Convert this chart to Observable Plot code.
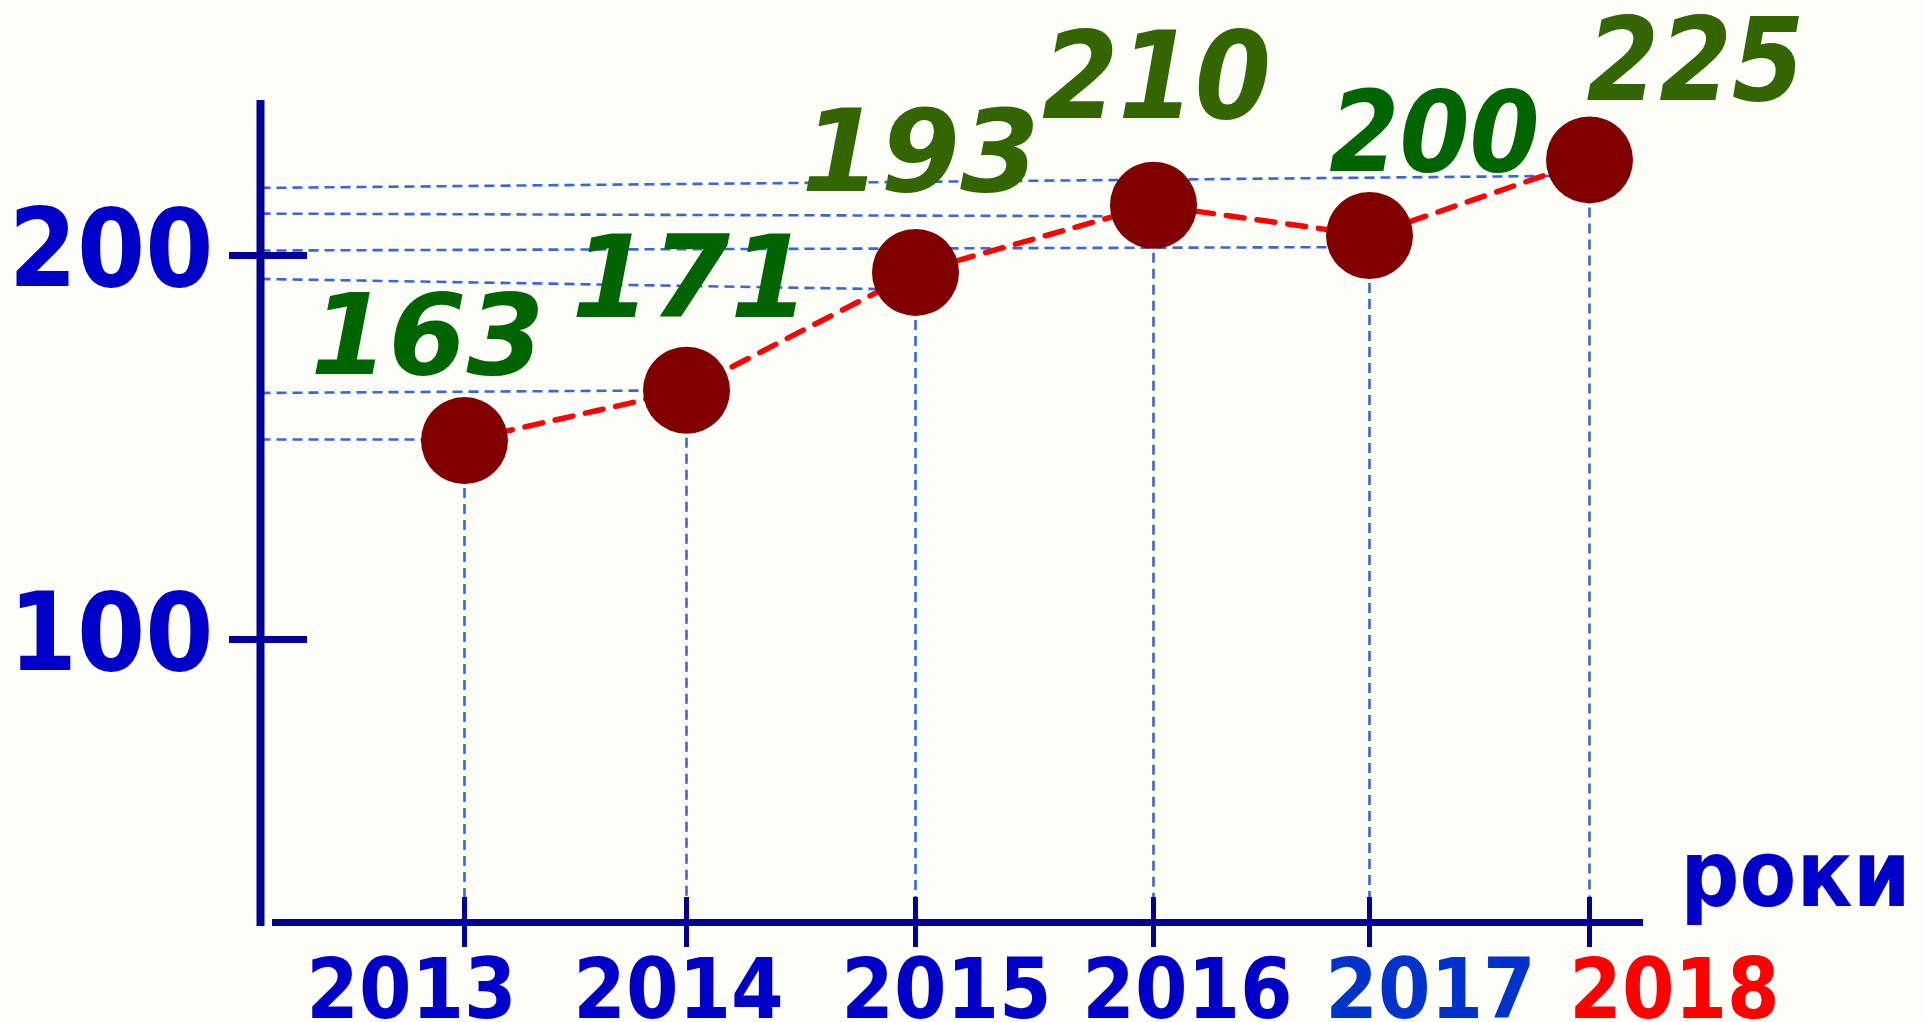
<!DOCTYPE html>
<html><head><meta charset="utf-8">
<script src="https://cdn.jsdelivr.net/npm/d3@7"></script>
<script src="https://cdn.jsdelivr.net/npm/@observablehq/plot@0.6"></script>
<style>
html,body{margin:0;padding:0;background:#fefef8;overflow:hidden}
#chart svg{display:block}
</style></head><body><div id="chart"></div>
<script>
// ---- data ----
const years = [2013, 2014, 2015, 2016, 2017, 2018];
const values = [163, 171, 193, 210, 200, 225];                 // printed labels
const dotLevels = [151.8, 164.9, 195.6, 213.1, 205.2, 224.9];   // where dots are drawn on the y scale
const guideStart = [152.1, 164.2, 193.9, 210.9, 201.3, 217.6];  // horizontal guide level at the axis
const guideEnd = [152.1, 164.9, 191.1, 210.2, 202.2, 220.8];    // horizontal guide level at the dot
const yTicks = [100, 200];
const yearLabels = ["2013", "2014", "2015", "2016", "2017", "2018"];
const axisTitle = "роки";

// ---- layout / style ----
const W = 1923, H = 1022;
const xRange = [464, 686, 915, 1153, 1369, 1589];   // hand-drawn, slightly uneven year spacing
const yDomain = [100, 200], yRange = [639, 255];
const xs = d3.scaleLinear(years, xRange);
const ys = d3.scaleLinear(yDomain, yRange);
const AXIS = "#000099", BLUE = "#0000c8", GUIDE = "#3a66d6";
const FONT = "'DejaVu Sans Condensed', 'DejaVu Sans', sans-serif";
const FONT_WIDE = "'DejaVu Sans', sans-serif";

const labelStyle = [
  {dx: -37, dy: -67, size: 112, fill: "#006400", font: FONT_WIDE},
  {dx: 4, dy: -73, size: 114, fill: "#006400", font: FONT_WIDE},
  {dx: 5, dy: -81, size: 114, fill: "#336600", font: FONT_WIDE},
  {dx: 3, dy: -87, size: 122, fill: "#336600", font: FONT},
  {dx: 65, dy: -65, size: 112, fill: "#006400", font: FONT},
  {dx: 106, dy: -60, size: 116, fill: "#336600", font: FONT}
];
const yearStyle = [
  {dx: -53, fill: BLUE}, {dx: -8, fill: BLUE}, {dx: 31, fill: BLUE},
  {dx: 34, fill: BLUE}, {dx: 61, fill: "#0033cc"}, {dx: 85, fill: "#ff0000"}
];

const idx = years.map((_, i) => i);
const axisX = xs.invert(260);
const baseY = ys.invert(922);
const guideStyle = {stroke: GUIDE, strokeWidth: 2.6, strokeDasharray: "10,6"};

const marks = [
  // horizontal guides
  Plot.link(idx, {x1: () => axisX, y1: i => guideStart[i], x2: i => years[i], y2: i => guideEnd[i], ...guideStyle}),
  // vertical guides
  Plot.ruleX(idx, {x: i => years[i], y1: i => dotLevels[i], y2: () => ys.invert(905), ...guideStyle}),
  // y axis line
  Plot.ruleX([axisX], {x: d => d, y1: ys.invert(926), y2: ys.invert(100), stroke: AXIS, strokeWidth: 8}),
  // y ticks
  Plot.ruleY(yTicks, {y: d => d, x1: xs.invert(229), x2: xs.invert(307), stroke: AXIS, strokeWidth: 7}),
  // x axis line
  Plot.ruleY([baseY], {y: d => d, x1: xs.invert(272), x2: xs.invert(1643), stroke: AXIS, strokeWidth: 7}),
  // x ticks
  Plot.ruleX(years, {x: d => d, y1: ys.invert(897), y2: ys.invert(947), stroke: AXIS, strokeWidth: 5}),
  // y tick labels
  Plot.text(yTicks, {x: () => xs.invert(213), y: d => d, text: d => String(d), textAnchor: "end",
    lineAnchor: "middle", dy: -4, fontSize: 109, fontWeight: "bold", fontFamily: FONT, fill: BLUE}),
  // trend line
  Plot.line(idx, {x: i => years[i], y: i => dotLevels[i], stroke: "#ff0000", strokeWidth: 5.5,
    strokeDasharray: "18,13"}),
  // dots
  Plot.dot(idx, {x: i => years[i], y: i => dotLevels[i], r: 43.5, fill: "#800000", stroke: "none"}),
  // value labels
  ...idx.map(i => Plot.text([i], {x: j => years[j], y: j => dotLevels[j], text: j => String(values[j]),
    dx: labelStyle[i].dx, dy: labelStyle[i].dy, lineAnchor: "bottom", textAnchor: "middle",
    fontSize: labelStyle[i].size, fontWeight: "bold", fontStyle: "italic",
    fontFamily: labelStyle[i].font, fill: labelStyle[i].fill})),
  // year labels
  ...idx.map(i => Plot.text([i], {x: j => years[j], y: () => ys.invert(1017), text: j => yearLabels[j],
    dx: yearStyle[i].dx, lineAnchor: "bottom", textAnchor: "middle",
    fontSize: 84, fontWeight: "bold", fontFamily: FONT, fill: yearStyle[i].fill})),
  // axis title
  Plot.text([axisTitle], {x: () => xs.invert(1795), y: () => ys.invert(905), text: d => d,
    lineAnchor: "bottom", textAnchor: "middle", fontSize: 92, fontWeight: "bold", fontFamily: FONT, fill: BLUE})
];

const chart = Plot.plot({
  width: W, height: H, margin: 0,
  x: {type: "linear", domain: years, range: xRange, axis: null},
  y: {type: "linear", domain: yDomain, range: yRange, axis: null},
  style: {background: "#fefef8", overflow: "visible"},
  marks
});
document.getElementById("chart").append(chart);
</script></body></html>
